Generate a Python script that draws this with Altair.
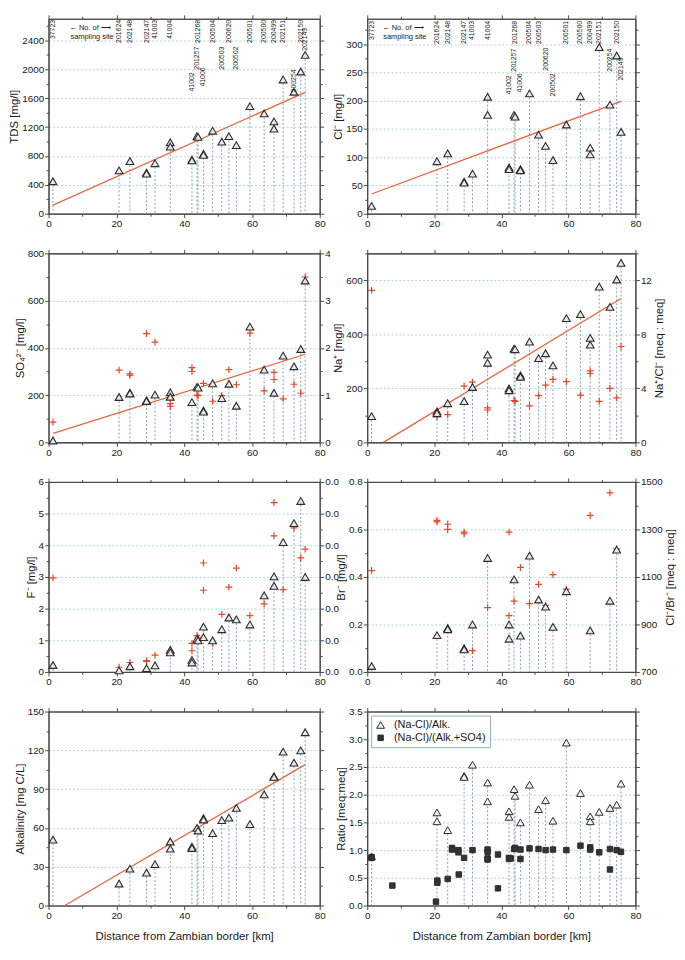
import altair as alt
import pandas as pd

FONT = "Liberation Sans"

# ---------------- data ----------------
sites = ["37723", "201624", "202148", "202147", "41003", "41004", "41002", "201257", "201268",
         "41006", "200504", "200503", "200620", "200502", "200501", "200500", "200499",
         "202151", "200254", "202150", "202149"]
site_km = [1.3, 20.8, 24.0, 28.9, 31.4, 35.9, 42.3, 43.8, 44.1, 45.7, 48.4, 51.1, 53.2, 55.4,
           59.4, 63.6, 66.5, 69.2, 72.4, 74.4, 75.7]

tds = [[450], [600], [730], [570, 555], [700], [990, 930], [750, 740], [1075], [1065], [830, 815],
       [1150], [1000], [1075], [950], [1490], [1390], [1280, 1180], [1860], [1690], [1970], [2200]]
cl = [[14], [93], [107], [57, 55], [71], [207, 175], [82, 79], [175], [172], [79, 77], [213], [140],
      [120], [95], [158], [208], [117, 105], [295], [193], [280], [145]]
so4 = [[8], [192], [210, 207], [178, 175], [202], [212, 193], [170], [235], [232], [135, 130], [250],
       [187], [248], [155], [490], [308], [210], [367], [322], [395], [685]]
so4_red = [[0.43], [1.53], [1.45, 1.42], [2.30], [2.12], [0.82, 0.76], [1.58, 1.50], [1.00], [0.99],
           [1.25], [0.87], [0.99], [1.54], [1.22], [2.31], [1.09], [1.48, 1.33], [0.92], [1.23],
           [1.04], [3.50]]
na = [[97], [115, 108], [145], [153], [205], [325, 295], [200, 193], [347], [345], [248, 243], [373],
      [312], [330], [285], [460], [475], [387, 362], [577], [502], [603], [665]]
na_cl = [[11.26], [2.0, 1.9], [2.06], [4.16], [4.46], [2.56, 2.4], [3.7], [3.1], [3.04], [4.9, 4.8],
         [2.7], [3.46], [4.24], [4.66], [4.5], [3.5], [5.3, 5.1], [3.04], [4.0], [3.3], [7.1]]
f_vals = [[0.22], [0.05], [0.18], [0.12], [0.21], [0.70, 0.62], [0.38, 0.30], [1.05], [1.00],
          [1.43, 1.10], [1.00], [1.35], [1.72], [1.66], [1.50], [2.42], [3.02, 2.72], [4.10], [4.70],
          [5.40], [3.00]]
f_red = [[2.97], [0.15], [0.30], [0.36, 0.33], [0.53], [0.65], [0.90, 0.67], [1.15], [1.08],
         [3.44, 2.58], [0.90], [1.82], [2.68], [3.28], [1.78], [2.15], [5.35, 4.30], [2.60], [4.55],
         [3.60], [3.88]]
br = [[0.025], [0.155], [0.185, 0.18], [0.10, 0.095], [0.20], [0.48], [0.20, 0.14], [0.39], [],
      [0.153], [0.49], [0.305], [0.275], [0.19], [0.34], [], [0.175], [], [0.30], [0.515], []]
cl_br = [[1127], [1338, 1332], [1322, 1300], [1289, 1282], [790], [971], [1289, 937], [998], [],
         [1140], [988], [1069], [980], [1110], [1049], [], [1359], [], [1454], [1218], []]
alk = [[51], [17], [28.5], [25.5], [32], [49.5, 44], [45.5, 44.5], [60], [58], [67.5, 66.5], [56],
       [66], [68], [75.5], [63], [86], [100, 99.5], [119], [110.5], [120], [134]]
ratio_alk = [[0.89], [1.68, 1.52], [1.36], [2.34, 2.32], [2.54], [2.22, 1.88], [1.70, 1.60], [2.10],
             [1.98], [1.50], [2.18], [1.74], [1.90], [1.53], [2.94], [2.03], [1.61, 1.52], [1.69],
             [1.76], [1.82], [2.20]]
sq_km = [1.3, 1.3, 7.5, 20.5, 20.9, 20.9, 24.0, 25.3, 25.3, 27.2, 27.2, 27.3, 28.9, 31.4, 35.9, 35.9,
         35.9, 35.9, 39.0, 39.0, 42.3, 42.3, 42.8, 43.8, 44.1, 45.7, 45.7, 48.4, 51.1, 53.2, 55.4,
         59.4, 63.6, 66.5, 66.5, 69.2, 72.4, 72.4, 74.4, 75.7]
sq_val = [0.87, 0.86, 0.36, 0.07, 0.45, 0.41, 0.48, 1.04, 1.01, 1.00, 0.96, 0.56, 0.86, 1.00, 1.01,
          0.97, 0.85, 0.83, 0.92, 0.31, 0.86, 0.84, 0.85, 1.02, 1.04, 1.01, 0.84, 1.03, 1.02, 1.00,
          1.01, 1.00, 1.08, 1.05, 1.01, 0.96, 1.02, 0.65, 1.00, 0.97]

trend_km = [1.3, 75.7]
trend_tds = [120, 1680]
trend_cl = [35, 199]
trend_so4 = [38, 373]
trend_na_km = [4.8, 75.7]
trend_na = [0, 533]
trend_alk_km = [4.8, 75.7]
trend_alk = [0, 109]

series_names = ["(Na-Cl)/Alk.", "(Na-Cl)/(Alk.+SO4)"]

# ---------------- style ----------------
WL, WR = 274, 271
HEIGHTS = [197, 191, 192, 196]
RED = "#e8452a"
TREND = "#e8643f"
DROP = "#86a5ab"
TRI_STROKE = "#2b2b2b"
TRI_FILL = "#e8e8e8"
CROSS = "M-1,0L1,0M0,-1L0,1"
LAB_SIZE = 7
CHAR_W = 3.9
TRI_SIZE = 62


def rng(lo, hi, step):
    n = int(round((hi - lo) / step))
    return [round(lo + i * step, 4) for i in range(n + 1)]


def js(lst):
    return "[" + ",".join(repr(x) for x in lst) + "]"


def cond(major, a, b):
    return {"condition": {"test": f"indexof({js(major)}, datum.value) >= 0", "value": a}, "value": b}


XT = rng(0, 80, 10)
XM = rng(0, 80, 20)
xs = alt.Scale(domain=[0, 80], nice=False, zero=False)


def xaxis(orient, labels, title=None):
    return alt.Axis(orient=orient, values=XT, labels=labels, title=title,
                    labelExpr=f"indexof({js(XM)}, datum.value) >= 0 ? format(datum.value, 'd') : ''",
                    tickSize=cond(XM, 4, 2.5), grid=False, labelFlush=False, labelOverlap=False,
                    titlePadding=10)


def yaxis(orient, ticks, major, fmt="d", title=None, labels=True, grid=None, expr=None):
    lab = expr if expr else f"format(datum.value, '{fmt}')"
    kw = dict(orient=orient, values=ticks, title=title, labels=labels,
              labelExpr=f"indexof({js(major)}, datum.value) >= 0 ? {lab} : ''",
              tickSize=cond(major, 4, 2.5), labelOverlap=False, labelFlush=False)
    if grid:
        kw.update(grid=True, gridOpacity=cond(grid, 1, 0))
    else:
        kw.update(grid=False)
    if orient == "right" and title:
        kw.update(titleAngle=270, titleBaseline="top")
    return alt.Axis(**kw)


def flat(vals):
    rows = []
    for km, vs in zip(site_km, vals):
        for v in vs:
            rows.append({"km": km, "v": v})
    return pd.DataFrame(rows)


def drops(vals):
    return pd.DataFrame([{"km": km, "top": max(vs), "base": 0}
                         for km, vs in zip(site_km, vals) if vs])


def panel(vals, ymax, maj, mnr, fmt, ytitle, w, h, right=None, red=None, red_expr=None,
          trend=None, labels=None, ann=None, xtitle=None, points=None):
    top_tick = int((ymax + 1e-9) / mnr) * mnr
    ticks = rng(0, top_tick, mnr)
    major = [t for t in ticks if abs(t / maj - round(t / maj)) < 1e-6]
    grid = [t for t in major if 0 < t < ymax - 1e-9]
    ys = alt.Scale(domain=[0, ymax], nice=False, zero=True)

    if right is None:
        raxis = yaxis("right", ticks, major, labels=False)
    else:
        raxis = yaxis("right", ticks, major, title=right.get("title"), expr=right["expr"])

    layers = []
    layers.append(
        alt.Chart(drops(vals)).mark_rule(color=DROP, strokeDash=[2, 2], strokeWidth=1).encode(
            x=alt.X("km:Q", scale=xs, axis=xaxis("top", False)),
            y=alt.Y("top:Q", scale=ys, axis=raxis),
            y2="base:Q"))
    if trend is not None:
        tdf = pd.DataFrame({"km": trend[0], "v": trend[1]})
        layers.append(alt.Chart(tdf).mark_line(color=TREND, strokeWidth=1.3).encode(
            x=alt.X("km:Q", scale=xs, axis=None), y=alt.Y("v:Q", scale=ys, axis=None)))
    if red is not None:
        layers.append(alt.Chart(flat(red)).transform_calculate(yp=red_expr).mark_point(
            shape=CROSS, filled=False, color=RED, size=48, strokeWidth=1.2, opacity=1).encode(
            x=alt.X("km:Q", scale=xs, axis=None), y=alt.Y("yp:Q", scale=ys, axis=None)))
    left = yaxis("left", ticks, major, fmt=fmt, title=ytitle, grid=grid)
    if points is None:
        layers.append(alt.Chart(flat(vals)).mark_point(
            shape="triangle-up", filled=True, fill=TRI_FILL, stroke=TRI_STROKE, strokeWidth=1.1,
            size=TRI_SIZE, opacity=1).encode(
            x=alt.X("km:Q", scale=xs, axis=xaxis("bottom", True, xtitle)),
            y=alt.Y("v:Q", scale=ys, axis=left)))
    else:
        layers.append(points(xs, ys, xaxis("bottom", True, xtitle), left))
    if labels is not None:
        default, special = labels
        # anchor each vertical label at its lower end (text reads bottom to top)
        anchors = [round(special.get(s, default) + len(s) * CHAR_W, 1) for s in sites]
        ldf = pd.DataFrame({"km": site_km, "site": sites, "anc": anchors})
        for anc in sorted(set(anchors)):
            layers.append(alt.Chart(ldf[ldf["anc"] == anc]).mark_text(
                angle=270, align="left", baseline="middle", font=FONT, fontSize=LAB_SIZE,
                color="#222").encode(
                x=alt.X("km:Q", scale=xs, axis=None), y=alt.value(anc), text="site:N"))
    if ann is not None:
        cx = ann
        layers.append(alt.Chart(pd.DataFrame({"t": ["\u2190 No. of \u27f6"]})).mark_text(
            font=FONT, fontSize=7.5, color="#222", align="center").encode(
            x=alt.value(cx), y=alt.value(9), text="t:N"))
        layers.append(alt.Chart(pd.DataFrame({"t": ["sampling site"]})).mark_text(
            font=FONT, fontSize=7.5, color="#222", align="center").encode(
            x=alt.value(cx + 2), y=alt.value(18), text="t:N"))
    return alt.layer(*layers).properties(width=w, height=h).resolve_axis(
        x="independent", y="independent")


def ratio_points(xsc, ysc, xax, yax):
    rows = []
    for km, vs in zip(site_km, ratio_alk):
        for v in vs:
            rows.append({"km": km, "v": v, "series": series_names[0]})
    for km, v in zip(sq_km, sq_val):
        rows.append({"km": km, "v": v, "series": series_names[1]})
    df = pd.DataFrame(rows)
    leg = alt.Legend(title=None, orient="top-left", offset=4, padding=4,
                     strokeColor="#8fb5a8", fillColor="white", labelFont=FONT,
                     labelFontSize=11, labelColor="#1a1a1a", labelOffset=8,
                     symbolStrokeWidth=1, rowPadding=1)
    dom = series_names
    return alt.Chart(df).mark_point(filled=True, strokeWidth=1, opacity=1).encode(
        x=alt.X("km:Q", scale=xsc, axis=xax),
        y=alt.Y("v:Q", scale=ysc, axis=yax),
        shape=alt.Shape("series:N", scale=alt.Scale(domain=dom, range=["triangle-up", "square"]),
                        legend=leg),
        fill=alt.Fill("series:N", scale=alt.Scale(domain=dom, range=["#f4f4f4", "#333333"]),
                      legend=leg),
        stroke=alt.Stroke("series:N", scale=alt.Scale(domain=dom, range=[TRI_STROKE, TRI_STROKE]),
                          legend=leg),
        size=alt.Size("series:N", scale=alt.Scale(domain=dom, range=[TRI_SIZE, 30]), legend=leg))


tds_labels = (1, {"201257": 28, "200503": 28, "200502": 28, "41002": 54, "41006": 49,
                  "200254": 51, "202149": 9})
cl_labels = (2, {"201257": 30, "200620": 29, "41002": 57, "41006": 55, "200502": 55,
                 "200254": 30, "202149": 39})

XTITLE = "Distance from Zambian border [km]"

p1 = panel(tds, 2700, 400, 200, "d", "TDS [mg/l]", WL, HEIGHTS[0],
           trend=(trend_km, trend_tds), labels=tds_labels, ann=42)
p2 = panel(cl, 345, 50, 25, "d", "Cl\u207b [mg/l]", WR, HEIGHTS[0],
           trend=(trend_km, trend_cl), labels=cl_labels, ann=36)
p3 = panel(so4, 800, 200, 100, "d", "SO\u2084\u00b2\u207b [mg/l]", WL, HEIGHTS[1],
           right={"expr": "format(datum.value/200, 'd')"}, red=so4_red, red_expr="datum.v*200",
           trend=(trend_km, trend_so4))
p4 = panel(na, 700, 200, 100, "d", "Na\u207a [mg/l]", WR, HEIGHTS[1],
           right={"expr": "format(datum.value/50, 'd')", "title": "Na\u207a/Cl\u207b [meq : meq]"},
           red=na_cl, red_expr="datum.v*50", trend=(trend_na_km, trend_na))
p5 = panel(f_vals, 6, 1, 0.5, "d", "F\u207b [mg/l]", WL, HEIGHTS[2],
           right={"expr": "'0.0'"}, red=f_red, red_expr="datum.v")
p6 = panel(br, 0.8, 0.2, 0.1, ".1f", "Br\u207b [mg/l]", WR, HEIGHTS[2],
           right={"expr": "format(700 + datum.value*1000, 'd')", "title": "Cl\u207b/Br\u207b [meq : meq]"},
           red=cl_br, red_expr="(datum.v - 700)/1000")
p7 = panel(alk, 150, 30, 15, "d", "Alkalinity [mg C/L]", WL, HEIGHTS[3],
           trend=(trend_alk_km, trend_alk), xtitle=XTITLE)
p8 = panel(ratio_alk, 3.5, 0.5, 0.25, ".1f", "Ratio [meq:meq]", WR, HEIGHTS[3],
           xtitle=XTITLE, points=ratio_points)

chart = alt.concat(p1, p2, p3, p4, p5, p6, p7, p8, columns=2,
                   spacing={"row": 40, "column": 48}, bounds="flush").resolve_scale(
    shape="independent", fill="independent", size="independent",
    stroke="independent").resolve_legend(
    shape="independent", fill="independent", size="independent",
    stroke="independent").configure_view(
    stroke="#4a4a4a", strokeWidth=1.1).configure_axis(
    domainColor="#4a4a4a", tickColor="#4a4a4a", labelColor="#1a1a1a", titleColor="#1a1a1a",
    labelFont=FONT, titleFont=FONT, labelFontSize=10, titleFontSize=11.5,
    titleFontWeight="normal", labelPadding=1, titlePadding=2, gridColor="#9cc9c9",
    gridDash=[2, 2], gridWidth=0.8, domainWidth=1.1).properties(background="white", padding=0)

chart.save("out.html", embed_options={"renderer": "svg", "actions": False})
